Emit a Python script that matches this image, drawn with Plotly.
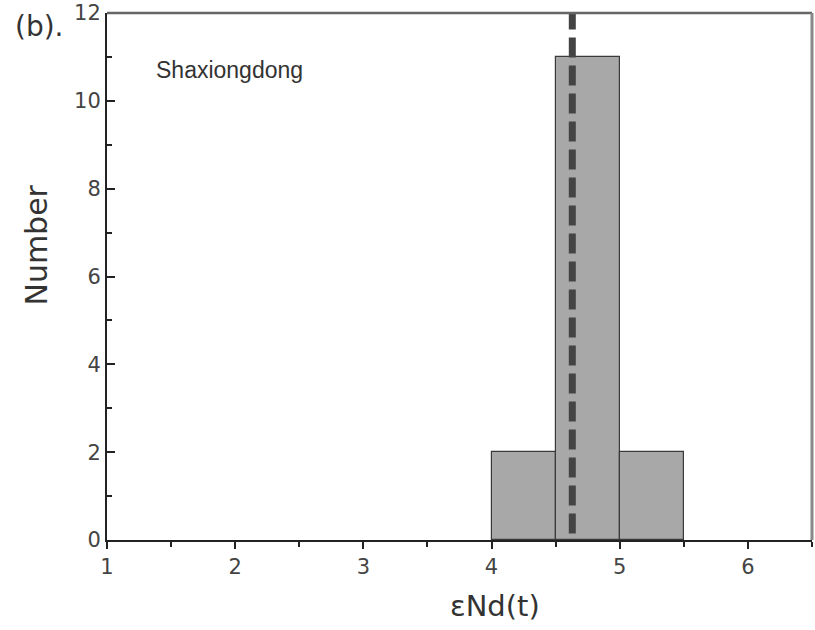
import plotly.graph_objects as go

bin_left = [4.0, 4.5, 5.0]
bin_width = [0.5, 0.5, 0.5]
counts = [2, 11, 2]
mean_value = 4.63
x_ticks = [1, 2, 3, 4, 5, 6]
y_ticks = [0, 2, 4, 6, 8, 10, 12]
x_title = "εNd(t)"
y_title = "Number"

fig = go.Figure()
fig.add_trace(go.Bar(
    x=bin_left, y=counts, width=bin_width, offset=0,
    marker=dict(color="#a8a8a8", line=dict(color="#3a3a3a", width=1.2)),
    showlegend=False,
))
fig.add_trace(go.Scatter(
    x=[mean_value, mean_value], y=[0.15, 12], mode="lines",
    line=dict(color="#444444", width=7, dash="20px,8px"),
    showlegend=False,
))

font_family = "DejaVu Sans, Verdana, sans-serif"
arial = "Liberation Sans, Arial, sans-serif"
fig.update_layout(
    width=815, height=630,
    margin=dict(l=107, r=3, t=13, b=90),
    paper_bgcolor="white", plot_bgcolor="white",
    font=dict(family=font_family, color="#333333"),
    xaxis=dict(
        range=[1, 6.5], tickvals=x_ticks, ticks="outside", ticklen=7, tickwidth=1.5,
        tickcolor="#222", showline=True, linecolor="#222", linewidth=2,
        showgrid=False, zeroline=False, tickfont=dict(size=21, color="#444"),
        minor=dict(dtick=0.5, tick0=1, ticks="outside", ticklen=5, tickcolor="#222", tickwidth=1.5),
        automargin=False,
    ),
    yaxis=dict(
        range=[0, 12], tickvals=y_ticks, ticks="inside", ticklen=8, tickwidth=1.5,
        tickcolor="#222", showline=True, linecolor="#222", linewidth=2,
        showgrid=False, zeroline=False, tickfont=dict(size=21, color="#444"),
        minor=dict(dtick=1, tick0=0, ticks="inside", ticklen=5, tickcolor="#222", tickwidth=1.5),
        automargin=False,
    ),
    bargap=0,
)
# top and right frame
fig.add_shape(type="line", xref="paper", yref="paper", x0=0, x1=1, y0=1, y1=1,
              line=dict(color="#666666", width=2.5))
fig.add_shape(type="line", xref="paper", yref="paper", x0=1, x1=1, y0=0, y1=1,
              line=dict(color="#888888", width=3))
# axis titles (offset from centre as in the original)
fig.add_annotation(text=x_title, xref="paper", yref="paper", x=0.5504, y=-0.125,
                   xanchor="center", yanchor="middle", showarrow=False,
                   font=dict(size=29, color="#333", family=font_family))
fig.add_annotation(text=y_title, xref="paper", yref="paper", x=-0.0993, y=0.5606,
                   xanchor="center", yanchor="middle", showarrow=False, textangle=-90,
                   font=dict(size=30, color="#333", family=font_family))
fig.add_annotation(text="(b).", xref="paper", yref="paper", x=-0.133, y=1.01,
                   xanchor="left", yanchor="top", showarrow=False,
                   font=dict(size=28, color="#333", family=font_family))
fig.add_annotation(text="Shaxiongdong", xref="paper", yref="paper", x=0.067, y=0.921,
                   xanchor="left", yanchor="top", showarrow=False,
                   font=dict(size=23, color="#333", family=arial))

fig.write_html("out.html", config={"displayModeBar": False},
               post_script="document.body.style.margin='0px';")
